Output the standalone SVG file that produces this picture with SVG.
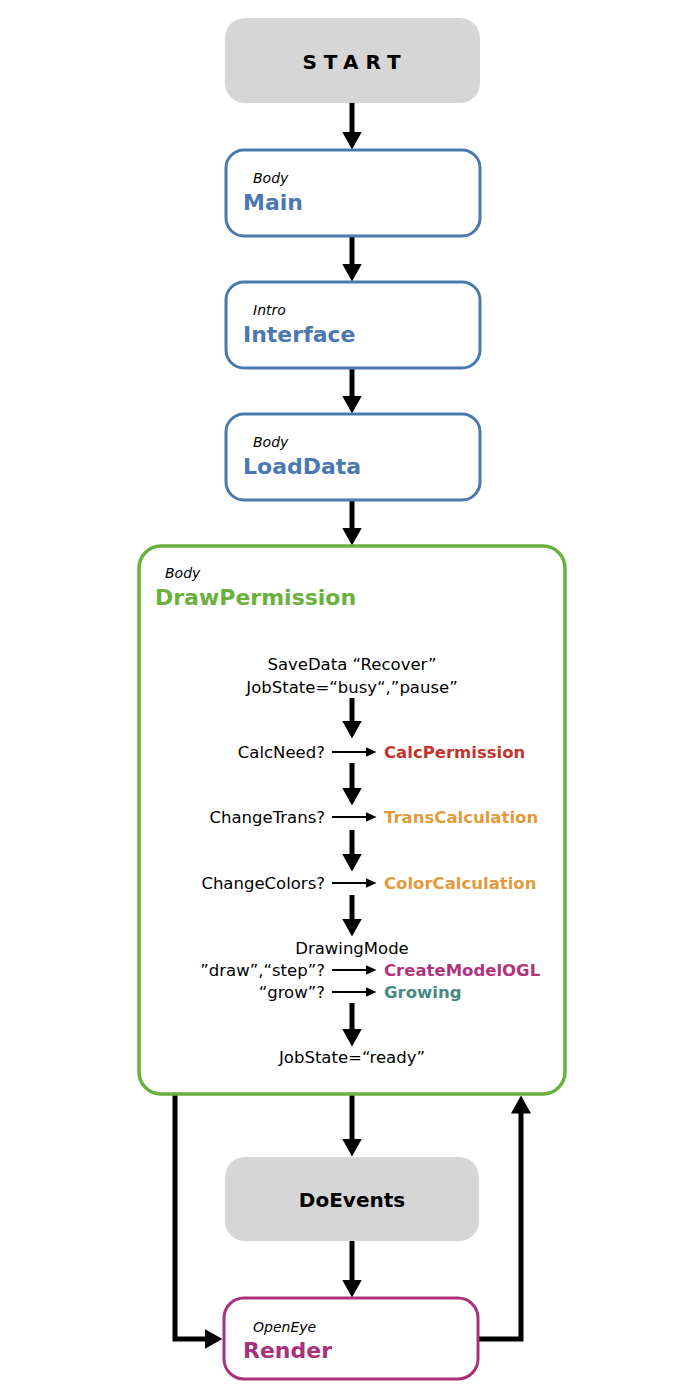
<svg xmlns="http://www.w3.org/2000/svg" width="700" height="1400" viewBox="0 0 700 1400">
<style>
.gray{fill:#d6d6d6;stroke:none}
.blue{fill:#fff;stroke:#4a78b1;stroke-width:3}
.green{fill:#fff;stroke:#6ab03c;stroke-width:3.5}
.mag{fill:#fff;stroke:#a8327a;stroke-width:3}
.it{font-family:"DejaVu Sans",sans-serif;font-style:italic;font-size:14px;fill:#000}
.ti{font-family:"DejaVu Sans",sans-serif;font-weight:bold;font-size:22px}
.tx{font-family:"DejaVu Sans",sans-serif;font-size:16.5px;fill:#000}
.bx{font-family:"DejaVu Sans",sans-serif;font-weight:bold;font-size:16.5px}
.big{stroke:#000;stroke-width:5;fill:none}
.sm{stroke:#000;stroke-width:2;fill:none}
</style>
<defs>
<marker id="ah" viewBox="0 0 18 20" markerWidth="18" markerHeight="20" refX="0.5" refY="10" markerUnits="userSpaceOnUse" orient="auto"><path d="M0,0 L18,10 L0,20 z" fill="#000"/></marker>
<marker id="sa" viewBox="0 0 11 10" markerWidth="11" markerHeight="10" refX="0.5" refY="5" markerUnits="userSpaceOnUse" orient="auto"><path d="M0,0 L11,5 L0,10 z" fill="#000"/></marker>
</defs>

<g id="connectors">
<line class="big" x1="352" y1="103" x2="352" y2="132" marker-end="url(#ah)"/>
<line class="big" x1="352" y1="236" x2="352" y2="264" marker-end="url(#ah)"/>
<line class="big" x1="352" y1="368" x2="352" y2="396" marker-end="url(#ah)"/>
<line class="big" x1="352" y1="500" x2="352" y2="528" marker-end="url(#ah)"/>
<line class="big" x1="352" y1="1095" x2="352" y2="1139" marker-end="url(#ah)"/>
<line class="big" x1="352" y1="1241" x2="352" y2="1280" marker-end="url(#ah)"/>
<path class="big" d="M175,1094 V1339 H205" marker-end="url(#ah)"/>
<path class="big" d="M478,1339 H521 V1113" marker-end="url(#ah)"/>
</g>

<g id="start">
<rect class="gray" x="225" y="18" width="255" height="85" rx="20"/>
<text x="355" y="69" text-anchor="middle" style="font-family:'DejaVu Sans',sans-serif;font-weight:bold;font-size:20px;letter-spacing:7px">START</text>
</g>

<g id="main">
<rect class="blue" x="226" y="150" width="254" height="86" rx="18"/>
<text class="it" x="253" y="183">Body</text>
<text class="ti" x="243" y="210" fill="#4a78b1">Main</text>
</g>

<g id="interface">
<rect class="blue" x="226" y="282" width="254" height="86" rx="18"/>
<text class="it" x="253" y="315">Intro</text>
<text class="ti" x="243" y="342" fill="#4a78b1">Interface</text>
</g>

<g id="loaddata">
<rect class="blue" x="226" y="414" width="254" height="86" rx="18"/>
<text class="it" x="253" y="447">Body</text>
<text class="ti" x="243" y="474" fill="#4a78b1">LoadData</text>
</g>

<g id="drawpermission">
<rect class="green" x="139" y="546" width="426" height="548" rx="22"/>
<text class="it" x="165" y="578">Body</text>
<text class="ti" x="155" y="605" fill="#6ab03c">DrawPermission</text>
<text class="tx" x="352" y="670" text-anchor="middle">SaveData “Recover”</text>
<text class="tx" x="352" y="693" text-anchor="middle">JobState=“busy“,”pause”</text>
<line class="big" x1="352" y1="698" x2="352" y2="721" marker-end="url(#ah)"/>
<text class="tx" x="325" y="758" text-anchor="end">CalcNeed?</text>
<line class="sm" x1="332" y1="752" x2="366" y2="752" marker-end="url(#sa)"/>
<text class="bx" x="384" y="758" fill="#c3352b">CalcPermission</text>
<line class="big" x1="352" y1="763" x2="352" y2="788" marker-end="url(#ah)"/>
<text class="tx" x="325" y="823" text-anchor="end">ChangeTrans?</text>
<line class="sm" x1="332" y1="817" x2="366" y2="817" marker-end="url(#sa)"/>
<text class="bx" x="384" y="823" fill="#e39a3b">TransCalculation</text>
<line class="big" x1="352" y1="830" x2="352" y2="854" marker-end="url(#ah)"/>
<text class="tx" x="325" y="889" text-anchor="end">ChangeColors?</text>
<line class="sm" x1="332" y1="883" x2="366" y2="883" marker-end="url(#sa)"/>
<text class="bx" x="384" y="889" fill="#e39a3b">ColorCalculation</text>
<line class="big" x1="352" y1="895" x2="352" y2="919" marker-end="url(#ah)"/>
<text class="tx" x="352" y="954" text-anchor="middle">DrawingMode</text>
<text class="tx" x="325" y="976" text-anchor="end">”draw”,“step”?</text>
<line class="sm" x1="332" y1="970" x2="366" y2="970" marker-end="url(#sa)"/>
<text class="bx" x="384" y="976" fill="#b0347b">CreateModelOGL</text>
<text class="tx" x="325" y="998" text-anchor="end">“grow”?</text>
<line class="sm" x1="332" y1="992" x2="366" y2="992" marker-end="url(#sa)"/>
<text class="bx" x="384" y="998" fill="#4a8a80">Growing</text>
<line class="big" x1="352" y1="1003" x2="352" y2="1029" marker-end="url(#ah)"/>
<text class="tx" x="352" y="1063" text-anchor="middle">JobState=“ready”</text>
</g>

<g id="doevents">
<rect class="gray" x="225" y="1157" width="254" height="84" rx="20"/>
<text x="352" y="1207" text-anchor="middle" style="font-family:'DejaVu Sans',sans-serif;font-weight:bold;font-size:20px">DoEvents</text>
</g>

<g id="render">
<rect class="mag" x="224" y="1298" width="254" height="81" rx="20"/>
<text class="it" x="253" y="1332">OpenEye</text>
<text class="ti" x="243" y="1358" fill="#a8327a">Render</text>
</g>
</svg>
